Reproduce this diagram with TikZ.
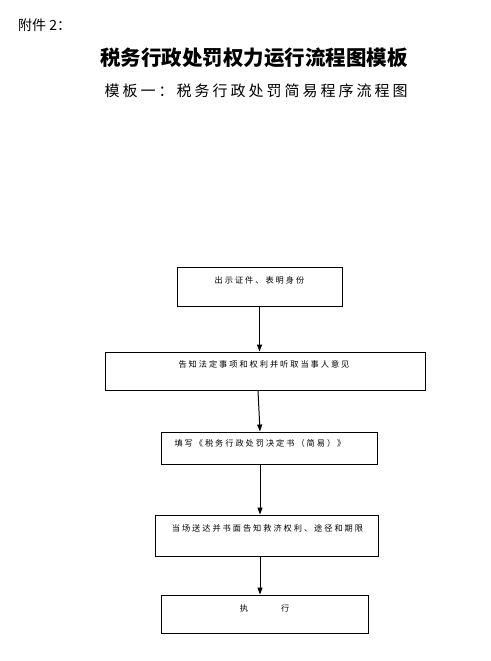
\documentclass[tikz,border=0pt]{standalone}
\usepackage{fontspec}
\setmainfont{Noto Sans CJK SC}
\newfontfamily\boxfont[LetterSpace=24]{Noto Sans CJK SC}
\newfontfamily\subfont[LetterSpace=20]{Noto Sans CJK SC}
\usetikzlibrary{arrows.meta}
\begin{document}
\begin{tikzpicture}[x=1pt,y=-1pt,
  stepbox/.style={draw, line width=0.9pt, rectangle, inner sep=0pt},
  boxtext/.style={font=\boxfont\fontsize{8.2}{9}\selectfont, inner sep=0pt, anchor=center},
  arr/.style={line width=1pt, -{Triangle[length=7pt,width=5pt]}}]
\useasboundingbox (0,0) rectangle (490,661);
% headings
\node[anchor=west, inner sep=0pt, font=\fontsize{14}{16}\selectfont] (att) at (18,25) {附件 2：};
\node[inner sep=0pt, font=\bfseries\fontsize{20.5}{22}\selectfont] (title) at (254,58) {税务行政处罚权力运行流程图模板};
\node[inner sep=0pt, font=\subfont\fontsize{15}{17}\selectfont] (sub) at (256,91) {模板一：税务行政处罚简易程序流程图};
% boxes
\node[stepbox, minimum width=165pt, minimum height=39pt] (b1) at (259.5,286.5) {};
\node[boxtext] (t1) at ([yshift=-14pt]b1.north) {出示证件、表明身份};
\node[stepbox, minimum width=320pt, minimum height=38pt] (b2) at (265,371) {};
\node[boxtext] (t2) at ([xshift=-1pt,yshift=-13pt]b2.north) {告知法定事项和权利并听取当事人意见};
\node[stepbox, minimum width=216pt, minimum height=32pt] (b3) at (269,448) {};
\node[boxtext] (t3) at ([xshift=-9pt,yshift=-12pt]b3.north) {填写《税务行政处罚决定书（简易）》};
\node[stepbox, minimum width=223pt, minimum height=41pt] (b4) at (266.5,535.5) {};
\node[boxtext] (t4) at ([xshift=1pt,yshift=-14pt]b4.north) {当场送达并书面告知救济权利、途径和期限};
\node[stepbox, minimum width=207pt, minimum height=38pt] (b5) at (264.5,614) {};
\node[boxtext] (t5) at ([yshift=-14pt]b5.north) {执\hspace{33pt}行};
% arrows
\draw[arr] (b1.south) -- (b1.south |- b2.north);
\draw[arr] ([xshift=-7pt]b2.south) -- ([xshift=-9pt]b3.north);
\draw[arr] ([xshift=-9pt]b3.south) -- ([xshift=-9pt]b3.south |- b4.north);
\draw[arr] ([xshift=-6.5pt]b4.south) -- ([xshift=-6.5pt]b4.south |- b5.north);
\end{tikzpicture}
\end{document}
